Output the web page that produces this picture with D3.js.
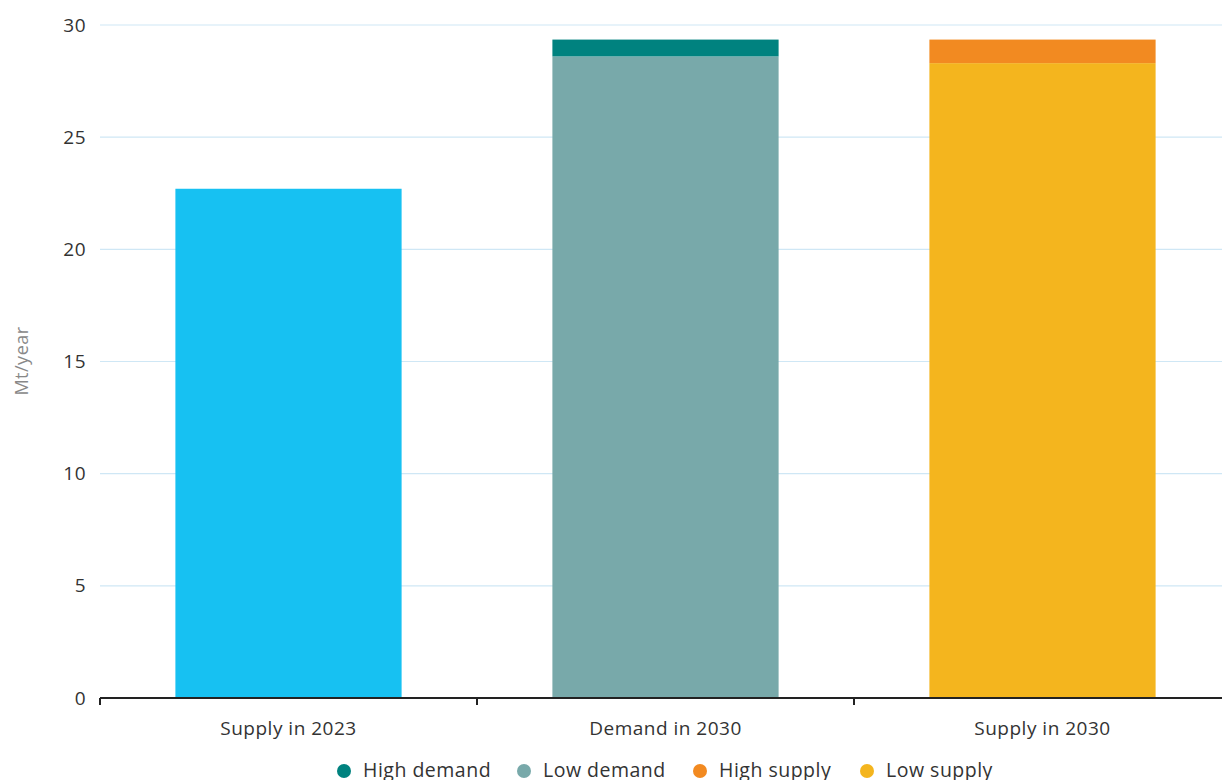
<!DOCTYPE html>
<html><head><meta charset="utf-8">
<script src="https://cdn.jsdelivr.net/npm/d3@7"></script>
<style>body{margin:0;background:#fff;font-family:"Open Sans",sans-serif;} text{letter-spacing:0.5px;}</style>
</head><body><svg id="c" width="1222" height="780"></svg>
<script>
const categories = ["Supply in 2023", "Demand in 2030", "Supply in 2030"];
const baseValues = [22.7, 28.6, 28.3];     // single / low scenario
const topValues = [0, 0.75, 1.05];          // increment to high scenario
const baseColors = ["#17c1f2", "#78a9aa", "#f4b51e"];
const topColors = [null, "#00827f", "#f28a21"];
const yTicks = [0, 5, 10, 15, 20, 25, 30];
const legendLabels = ["High demand", "Low demand", "High supply", "Low supply"];
const legendColors = ["#00827f", "#78a9aa", "#f28a21", "#f4b51e"];

const svg = d3.select("#c");
const x = d3.scaleBand().domain(categories).range([100, 1231]).paddingInner(0.4).paddingOuter(0.2);
const y = d3.scaleLinear().domain([0, 30]).range([698, 25]);

// gridlines
svg.append("g").selectAll("line").data(yTicks.filter(d => d > 0)).join("line")
  .attr("x1", 100).attr("x2", 1222).attr("y1", d => y(d)).attr("y2", d => y(d))
  .attr("stroke", "#cfe7f5").attr("stroke-width", 1.2);

// y tick labels
svg.append("g").selectAll("text").data(yTicks).join("text")
  .attr("x", 86).attr("y", d => y(d)).attr("dy", "0.35em").attr("text-anchor", "end")
  .attr("font-size", 19).attr("fill", "#333").text(d => d);

// y title
svg.append("text").attr("transform", "translate(28,361) rotate(-90)")
  .attr("text-anchor", "middle").attr("font-size", 18).attr("fill", "#888").text("Mt/year");

// bars
const g = svg.append("g");
categories.forEach((c, i) => {
  g.append("rect").attr("x", x(c)).attr("width", x.bandwidth())
    .attr("y", y(baseValues[i])).attr("height", y(0) - y(baseValues[i])).attr("fill", baseColors[i]);
  if (topValues[i] > 0) {
    g.append("rect").attr("x", x(c)).attr("width", x.bandwidth())
      .attr("y", y(baseValues[i] + topValues[i])).attr("height", y(baseValues[i]) - y(baseValues[i] + topValues[i]))
      .attr("fill", topColors[i]);
  }
});

// x axis
const step = x.step();
const xa = svg.append("g");
xa.append("line").attr("x1", 100).attr("x2", 1222).attr("y1", 698).attr("y2", 698).attr("stroke", "#222").attr("stroke-width", 2);
xa.selectAll("line.t").data(categories).join("line").attr("class", "t")
  .attr("x1", d => x(d) - step * 0.2).attr("x2", d => x(d) - step * 0.2)
  .attr("y1", 698).attr("y2", 705).attr("stroke", "#222").attr("stroke-width", 2);
xa.selectAll("text").data(categories).join("text")
  .attr("x", d => x(d) + x.bandwidth() / 2).attr("y", 735).attr("text-anchor", "middle")
  .attr("font-size", 19).attr("fill", "#333").text(d => d);

// legend
const lx = [344, 524, 700, 867];
const lg = svg.append("g");
legendLabels.forEach((l, i) => {
  lg.append("circle").attr("cx", lx[i]).attr("cy", 771).attr("r", 7).attr("fill", legendColors[i]);
  lg.append("text").attr("x", lx[i] + 19).attr("y", 777).attr("font-size", 19.5).attr("fill", "#333").text(l);
});
</script></body></html>
